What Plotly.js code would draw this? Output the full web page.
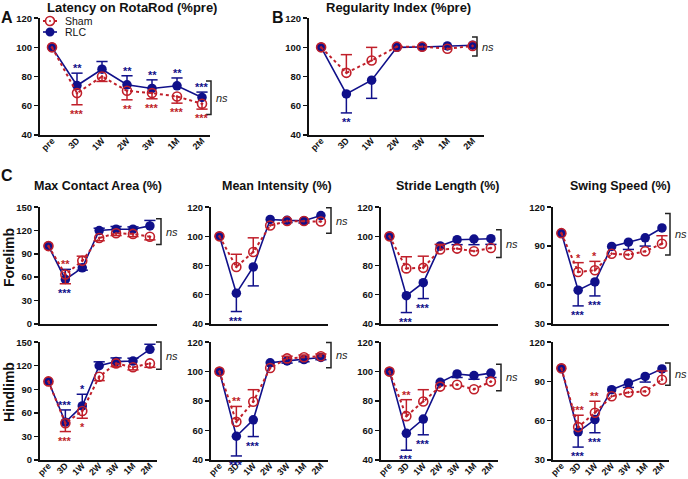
<!DOCTYPE html>
<html>
<head>
<meta charset="utf-8">
<script src="https://cdn.plot.ly/plotly-3.0.1.min.js"></script>
<style>
  html, body { margin: 0; padding: 0; background: #fff; }
  #chart { width: 688px; height: 479px; }
</style>
</head>
<body>
<div id="chart"></div>
<script>
const PERIODS = ["pre", "3D", "1W", "2W", "3W", "1M", "2M"];

// error values: positive = bar drawn upward, negative = bar drawn downward
// A - Latency on RotaRod
const LAT_SHAM = [100, 68.6, 80, 70.2, 68.6, 66.3, 61.3];
const LAT_SHAM_ERR = [0, -8, -3.4, -6.2, -3.9, -4.6, -3.7];
const LAT_RLC = [100, 73.8, 85, 74.3, 71.8, 73.6, 65.6];
const LAT_RLC_ERR = [0, 8.5, 5.3, 6.2, 5.9, 5.4, 3.7];
const LAT_SHAM_STARS = ["", "***", "", "**", "***", "***", "***"];
const LAT_RLC_STARS = ["", "**", "", "**", "**", "**", "***"];
const LAT_NS = [77, 54];

// B - Regularity index
const REG_SHAM = [100, 82.5, 91, 100.5, 100.5, 99, 101];
const REG_SHAM_ERR = [0, 12.5, 9, 0, 0, 0, 0];
const REG_RLC = [100, 68, 77.5, 100, 100.3, 101, 101.5];
const REG_RLC_ERR = [0, -13, -12.5, 0, 0, 0, 0];
const REG_SHAM_STARS = ["", "", "", "", "", "", ""];
const REG_RLC_STARS = ["", "**", "", "", "", "", ""];
const REG_NS = [107, 94];

// C - Max contact area
const MCA_F_SHAM = [100, 63.5, 81, 110.4, 116.5, 115.7, 112];
const MCA_F_SHAM_ERR = [0, -12, 6, -3.5, -3, -3.5, -4];
const MCA_F_RLC = [100, 57, 72, 120, 121.7, 121.7, 126];
const MCA_F_RLC_ERR = [0, 13, -3, 3, 3.5, 3, 7];
const MCA_F_SHAM_STARS = ["", "**", "", "", "", "", ""];
const MCA_F_RLC_STARS = ["", "***", "", "", "", "", ""];
const MCA_F_NS = [135, 102];

const MCA_H_SHAM = [100, 46.6, 62.3, 106, 123, 118, 123];
const MCA_H_SHAM_ERR = [0, -10.6, -9.3, -5, -4, -3.3, -5];
const MCA_H_RLC = [100, 47.9, 68.7, 120, 125.3, 126, 141];
const MCA_H_RLC_ERR = [0, 15.7, 14.9, 5, 4.7, 3.6, 6.4];
const MCA_H_SHAM_STARS = ["", "***", "*", "", "", "", ""];
const MCA_H_RLC_STARS = ["", "***", "*", "", "", "", ""];
const MCA_H_NS = [150, 115.5];

// C - Mean intensity
const MI_F_SHAM = [100, 79, 89.3, 107.5, 110.5, 110.5, 110.2];
const MI_F_SHAM_ERR = [0, 8.7, 9.7, 0, 0, 0, 0];
const MI_F_RLC = [100, 61, 79, 111.6, 111, 110.7, 114.3];
const MI_F_RLC_ERR = [0, -12.6, -13, 0, -1.5, -1.5, 0];
const MI_F_SHAM_STARS = ["", "", "", "", "", "", ""];
const MI_F_RLC_STARS = ["", "***", "", "", "", "", ""];
const MI_F_NS = [119.5, 102];

const MI_H_SHAM = [100, 65.8, 79.5, 102.5, 109, 109.8, 110.5];
const MI_H_SHAM_ERR = [0, 10.5, 8.2, 0, 1.5, 1.5, 1.5];
const MI_H_RLC = [100, 56, 67.2, 106, 107.3, 108.2, 109.6];
const MI_H_RLC_ERR = [0, -13.4, -11.4, 0, -1.5, -1.5, -1.5];
const MI_H_SHAM_STARS = ["", "**", "", "", "", "", ""];
const MI_H_RLC_STARS = ["", "***", "***", "", "", "", ""];
const MI_H_NS = [119.6, 102.5];

// C - Stride length
const SL_F_SHAM = [100, 78, 78.4, 91, 91.6, 89.8, 92];
const SL_F_SHAM_ERR = [0, 8, 8, 3.5, 0, 0, 0];
const SL_F_RLC = [100, 59.3, 68.2, 93.4, 97.7, 98.2, 98.4];
const SL_F_RLC_ERR = [0, -11.6, -10.9, 0, -3.4, -3.9, -3.9];
const SL_F_SHAM_STARS = ["", "", "", "", "", "", ""];
const SL_F_RLC_STARS = ["", "***", "***", "", "", "", ""];
const SL_F_NS = [104.5, 85.5];

const SL_H_SHAM = [100, 69.7, 79.7, 89.8, 91.1, 88, 93.2];
const SL_H_SHAM_ERR = [0, 11.2, 8, 0, 0, 0, 0];
const SL_H_RLC = [100, 58, 67.7, 92.7, 98.4, 97.3, 99];
const SL_H_RLC_ERR = [0, -11.5, -10.7, 0, -2.4, -2.5, -3];
const SL_H_SHAM_STARS = ["", "**", "", "", "", "", ""];
const SL_H_RLC_STARS = ["", "***", "***", "", "", "", ""];
const SL_H_NS = [105, 87];

// C - Swing speed
const SS_F_SHAM = [100, 70, 71.3, 84.1, 83.3, 86, 91.8];
const SS_F_SHAM_ERR = [0, 7.2, 6.9, 0, 0, 0, 6.2];
const SS_F_RLC = [100, 55.9, 62.3, 89.7, 93, 96.4, 104];
const SS_F_RLC_ERR = [0, -12.1, -10.8, 0, -5.6, -6.4, 0];
const SS_F_SHAM_STARS = ["", "*", "*", "", "", "", ""];
const SS_F_RLC_STARS = ["", "***", "***", "", "", "", ""];
const SS_F_NS = [115, 83];

const SS_H_SHAM = [100, 55, 66, 78.6, 81.6, 82.4, 91.3];
const SS_H_SHAM_ERR = [0, 9.1, 8.8, 0, 0, 0, 6.7];
const SS_H_RLC = [100, 51.4, 60.8, 83.7, 88.7, 93.8, 99.6];
const SS_H_RLC_ERR = [0, -11.7, -10.1, 0, -3.3, -4.3, 0];
const SS_H_SHAM_STARS = ["", "***", "**", "", "", "", ""];
const SS_H_RLC_STARS = ["", "***", "***", "", "", "", ""];
const SS_H_NS = [104, 87];

const W = 688, H = 479;
const BLUE = "#10108a";
const RED = "#c01f2a";
const INK = "#111111";
const FONT = "Liberation Sans, Arial, sans-serif";

// panel boxes in pixels: [left, right, top, bottom]
const ROW1 = [207, 324], ROW2 = [342, 460];
const COLS = [[40, 157], [211, 328], [381, 498], [553, 669]];
const BX = [161, 331, 501, 670];
const CXR = [-0.5, 6.42];

function cPanel(col, row, yr, dtick, d) {
  const ys = row === 0 ? ROW1 : ROW2;
  return Object.assign({
    box: [COLS[col][0], COLS[col][1], ys[0], ys[1]], xr: CXR.slice(), yr: yr, dtick: dtick,
    xlabels: row === 1, bx: BX[col]
  }, d);
}

const PANELS = [
  { box: [40, 210, 18, 135], xr: [-0.48, 6.32], yr: [40, 120], dtick: 20, xlabels: true, bx: 211,
    sham: LAT_SHAM, shamErr: LAT_SHAM_ERR, shamStars: LAT_SHAM_STARS, shamSide: -1,
    rlc: LAT_RLC, rlcErr: LAT_RLC_ERR, rlcStars: LAT_RLC_STARS, rlcSide: 1, ns: LAT_NS },
  { box: [309, 484, 18, 135], xr: [-0.48, 6.45], yr: [40, 120], dtick: 20, xlabels: true, bx: 477,
    sham: REG_SHAM, shamErr: REG_SHAM_ERR, shamStars: REG_SHAM_STARS, shamSide: 1,
    rlc: REG_RLC, rlcErr: REG_RLC_ERR, rlcStars: REG_RLC_STARS, rlcSide: -1, ns: REG_NS },
  cPanel(0, 0, [0, 150], 30, { sham: MCA_F_SHAM, shamErr: MCA_F_SHAM_ERR, shamStars: MCA_F_SHAM_STARS, shamSide: 1,
    rlc: MCA_F_RLC, rlcErr: MCA_F_RLC_ERR, rlcStars: MCA_F_RLC_STARS, rlcSide: -1, ns: MCA_F_NS }),
  cPanel(1, 0, [40, 120], 20, { sham: MI_F_SHAM, shamErr: MI_F_SHAM_ERR, shamStars: MI_F_SHAM_STARS, shamSide: 1,
    rlc: MI_F_RLC, rlcErr: MI_F_RLC_ERR, rlcStars: MI_F_RLC_STARS, rlcSide: -1, ns: MI_F_NS }),
  cPanel(2, 0, [40, 120], 20, { sham: SL_F_SHAM, shamErr: SL_F_SHAM_ERR, shamStars: SL_F_SHAM_STARS, shamSide: 1,
    rlc: SL_F_RLC, rlcErr: SL_F_RLC_ERR, rlcStars: SL_F_RLC_STARS, rlcSide: -1, ns: SL_F_NS }),
  cPanel(3, 0, [30, 120], 30, { sham: SS_F_SHAM, shamErr: SS_F_SHAM_ERR, shamStars: SS_F_SHAM_STARS, shamSide: 1,
    rlc: SS_F_RLC, rlcErr: SS_F_RLC_ERR, rlcStars: SS_F_RLC_STARS, rlcSide: -1, ns: SS_F_NS }),
  cPanel(0, 1, [0, 150], 30, { sham: MCA_H_SHAM, shamErr: MCA_H_SHAM_ERR, shamStars: MCA_H_SHAM_STARS, shamSide: -1,
    rlc: MCA_H_RLC, rlcErr: MCA_H_RLC_ERR, rlcStars: MCA_H_RLC_STARS, rlcSide: 1, ns: MCA_H_NS }),
  cPanel(1, 1, [40, 120], 20, { sham: MI_H_SHAM, shamErr: MI_H_SHAM_ERR, shamStars: MI_H_SHAM_STARS, shamSide: 1,
    rlc: MI_H_RLC, rlcErr: MI_H_RLC_ERR, rlcStars: MI_H_RLC_STARS, rlcSide: -1, ns: MI_H_NS }),
  cPanel(2, 1, [40, 120], 20, { sham: SL_H_SHAM, shamErr: SL_H_SHAM_ERR, shamStars: SL_H_SHAM_STARS, shamSide: 1,
    rlc: SL_H_RLC, rlcErr: SL_H_RLC_ERR, rlcStars: SL_H_RLC_STARS, rlcSide: -1, ns: SL_H_NS }),
  cPanel(3, 1, [30, 120], 30, { sham: SS_H_SHAM, shamErr: SS_H_SHAM_ERR, shamStars: SS_H_SHAM_STARS, shamSide: 1,
    rlc: SS_H_RLC, rlcErr: SS_H_RLC_ERR, rlcStars: SS_H_RLC_STARS, rlcSide: -1, ns: SS_H_NS })
];

const px = p => p / W;
const py = p => 1 - p / H;

const traces = [];
const layout = {
  width: W, height: H,
  margin: { l: 0, r: 0, t: 0, b: 0 },
  paper_bgcolor: "#ffffff",
  plot_bgcolor: "rgba(0,0,0,0)",
  showlegend: false,
  font: { family: FONT, color: INK },
  annotations: [],
  shapes: []
};

function addSeries(xa, ya, vals, err, color, isSham) {
  traces.push({
    type: "scatter", mode: "lines+markers", x: PERIODS, y: vals, xaxis: xa, yaxis: ya,
    line: { color: color, width: isSham ? 2 : 1.6, dash: isSham ? "dot" : "solid" },
    marker: isSham
      ? { symbol: "circle-open-dot", size: 9, color: color, line: { color: color, width: 1.6 } }
      : { symbol: "circle", size: 9.5, color: color },
    error_y: {
      type: "data", symmetric: false,
      array: err.map(e => Math.max(e, 0)),
      arrayminus: err.map(e => Math.max(-e, 0)),
      color: color, thickness: 1.5, width: 0
    },
    hoverinfo: "skip"
  });
  // caps only at the far end of each one-sided bar
  const cx = [], cy = [];
  err.forEach((e, k) => { if (e !== 0) { cx.push(PERIODS[k]); cy.push(vals[k] + e); } });
  traces.push({
    type: "scatter", mode: "markers", x: cx, y: cy, xaxis: xa, yaxis: ya,
    marker: { symbol: "line-ew", size: 8, color: color, line: { color: color, width: 1.5 } },
    hoverinfo: "skip"
  });
}

function addStars(p, xa, ya, stars, side, color) {
  stars.forEach((s, k) => {
    if (!s) return;
    const tops = [p.sham[k] + Math.max(p.shamErr[k], 0), p.rlc[k] + Math.max(p.rlcErr[k], 0)];
    const bots = [p.sham[k] - Math.max(-p.shamErr[k], 0), p.rlc[k] - Math.max(-p.rlcErr[k], 0)];
    layout.annotations.push({
      xref: xa, yref: ya, x: PERIODS[k],
      y: side > 0 ? Math.max(...tops) : Math.min(...bots),
      text: s, showarrow: false,
      yanchor: side > 0 ? "bottom" : "top",
      yshift: side > 0 ? -3 : -1,
      font: { size: 11, color: color, weight: "bold", family: FONT }
    });
  });
}

PANELS.forEach((p, i) => {
  const n = i === 0 ? "" : String(i + 1);
  const xa = "x" + n, ya = "y" + n;
  const [l, r, t, b] = p.box;

  layout["xaxis" + n] = {
    domain: [px(l), px(r)], anchor: ya,
    type: "category", categoryorder: "array", categoryarray: PERIODS, range: p.xr,
    showline: true, linewidth: 2, linecolor: INK, ticks: "",
    showticklabels: p.xlabels, tickangle: -45, ticklabelstandoff: -5,
    tickfont: { size: 9, weight: "bold", color: INK, family: FONT },
    showgrid: false, zeroline: false, fixedrange: true
  };
  const pad = (p.yr[1] - p.yr[0]) * 0.002;
  layout["yaxis" + n] = {
    domain: [py(b), py(t)], anchor: xa,
    range: [p.yr[0] - pad, p.yr[1] + pad], tick0: p.yr[0], dtick: p.dtick,
    ticklabeloverflow: "allow",
    showline: true, linewidth: 2, linecolor: INK,
    ticks: "outside", ticklen: 4, tickwidth: 1.5, tickcolor: INK,
    tickfont: { size: 9.5, weight: "bold", color: INK, family: FONT },
    showgrid: false, zeroline: false, fixedrange: true
  };

  addSeries(xa, ya, p.rlc, p.rlcErr, BLUE, false);
  addSeries(xa, ya, p.sham, p.shamErr, RED, true);
  addStars(p, xa, ya, p.rlcStars, p.rlcSide, BLUE);
  addStars(p, xa, ya, p.shamStars, p.shamSide, RED);

  // "ns" bracket next to the last time point
  const toPx = v => t + (p.yr[1] - v) / (p.yr[1] - p.yr[0]) * (b - t);
  const top = toPx(p.ns[0]), bot = toPx(p.ns[1]);
  layout.shapes.push({
    type: "path", xref: "paper", yref: "paper",
    path: `M${px(p.bx - 5)},${py(top)} L${px(p.bx)},${py(top)} L${px(p.bx)},${py(bot)} L${px(p.bx - 5)},${py(bot)}`,
    line: { color: "#222", width: 1.5 }
  });
  layout.annotations.push({
    xref: "paper", yref: "paper", x: px(p.bx + 3), y: py((top + bot) / 2),
    xanchor: "left", yanchor: "middle", text: "<i>ns</i>", showarrow: false,
    font: { size: 11, color: "#222", family: FONT }
  });
});

// titles, panel letters and row labels
const TEXTS = [
  ["Latency on RotaRod (%pre)", 132, 8, 13],
  ["Regularity Index (%pre)", 398, 8, 13],
  ["Max Contact Area (%)", 98, 186, 12.5],
  ["Mean Intensity (%)", 277, 186, 12.5],
  ["Stride Length (%)", 447, 186, 12.5],
  ["Swing Speed (%)", 620, 186, 12.5],
  ["A", 7, 17, 16],
  ["B", 278, 17, 16],
  ["C", 7, 176, 16]
];
TEXTS.forEach(([txt, x, y, s]) => {
  layout.annotations.push({
    xref: "paper", yref: "paper", x: px(x), y: py(y), xanchor: "center", yanchor: "middle",
    text: txt, showarrow: false, font: { size: s, weight: "bold", color: INK, family: FONT }
  });
});
[["Forelimb", 258], ["Hindlimb", 392]].forEach(([txt, y]) => {
  layout.annotations.push({
    xref: "paper", yref: "paper", x: px(9), y: py(y), xanchor: "center", yanchor: "middle",
    text: txt, textangle: -90, showarrow: false,
    font: { size: 14, weight: "bold", color: INK, family: FONT }
  });
});

// legend of panel A, drawn by hand to keep the rows tight
[["Sham", RED, 21, true], ["RLC", BLUE, 32, false]].forEach(([name, c, y, sham]) => {
  layout.shapes.push({
    type: "line", xref: "paper", yref: "paper", x0: px(43), x1: px(57), y0: py(y), y1: py(y),
    line: { color: c, width: sham ? 2 : 1.6, dash: sham ? "dot" : "solid" }
  });
  layout.shapes.push({
    type: "circle", xref: "paper", yref: "paper", xsizemode: "pixel", ysizemode: "pixel",
    xanchor: px(50), yanchor: py(y), x0: -4.5, x1: 4.5, y0: -4.5, y1: 4.5,
    fillcolor: sham ? "#ffffff" : c, line: { color: c, width: sham ? 1.6 : 0 }
  });
  if (sham) {
    layout.shapes.push({
      type: "circle", xref: "paper", yref: "paper", xsizemode: "pixel", ysizemode: "pixel",
      xanchor: px(50), yanchor: py(y), x0: -1, x1: 1, y0: -1, y1: 1,
      fillcolor: c, line: { color: c, width: 0 }
    });
  }
  layout.annotations.push({
    xref: "paper", yref: "paper", x: px(63), y: py(y), xanchor: "left", yanchor: "middle",
    text: name, showarrow: false, font: { size: 10.5, color: INK, family: FONT }
  });
});

Plotly.newPlot("chart", traces, layout, { displayModeBar: false, staticPlot: true });
</script>
</body>
</html>
